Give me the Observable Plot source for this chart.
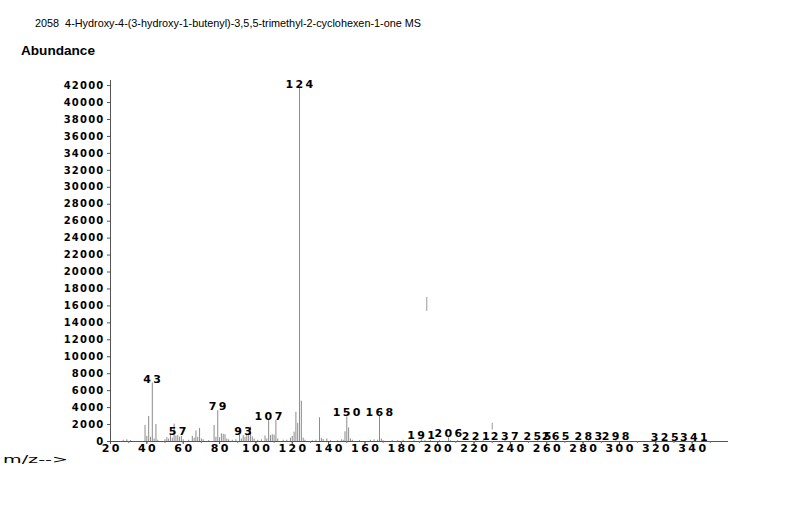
<!DOCTYPE html>
<html>
<head>
<meta charset="utf-8">
<script src="https://cdn.jsdelivr.net/npm/d3@7"></script>
<script src="https://cdn.jsdelivr.net/npm/@observablehq/plot@0.6"></script>
<style>
  html, body { margin: 0; padding: 0; background: #fff; }
  #chart { width: 800px; height: 509px; }
</style>
</head>
<body>
<div id="chart"></div>
<script>
// ---- Data ----
const titleText = "2058  4-Hydroxy-4-(3-hydroxy-1-butenyl)-3,5,5-trimethyl-2-cyclohexen-1-one MS";
const yLabel = "Abundance";
const xLabel = "m/z-->";

const mz = [27, 29, 31, 39, 40, 41, 42, 43, 44, 45, 46, 50, 51, 52, 53, 54, 55, 56, 57, 58, 59, 60,
  63, 65, 66, 67, 68, 69, 70, 71, 74, 77, 78, 79, 80, 81, 82, 83, 84, 85, 87, 89, 91, 92, 93, 94,
  95, 96, 97, 98, 99, 101, 103, 105, 106, 107, 108, 109, 110, 111, 112, 115, 117, 119, 120, 121,
  122, 123, 124, 125, 126, 127, 131, 133, 135, 136, 137, 139, 141, 145, 147, 148, 149, 150, 151,
  152, 153, 157, 163, 165, 167, 168, 169, 170, 175, 178, 181, 187, 191, 193, 196, 201, 206, 207,
  211, 221, 225, 237, 255, 265, 283, 298, 325, 341];
const abundance = [150, 200, 100, 1900, 600, 2950, 500, 6900, 300, 2000, 150, 200, 450, 300, 700,
  400, 2050, 650, 700, 500, 600, 200, 150, 600, 400, 1250, 500, 1550, 300, 200, 100, 1900, 500,
  3650, 450, 900, 850, 800, 300, 200, 150, 200, 800, 300, 700, 500, 850, 850, 1700, 550, 300, 150,
  200, 650, 300, 2500, 700, 800, 750, 2500, 300, 150, 150, 400, 600, 1100, 3450, 2150, 41700, 4750,
  400, 150, 100, 150, 2800, 350, 250, 300, 100, 100, 200, 150, 1150, 2900, 1600, 300, 150, 100, 150,
  200, 150, 2950, 300, 100, 100, 100, 150, 100, 200, 100, 100, 100, 450, 100, 100, 100, 100, 100,
  80, 80, 80, 80, 60, 60];

// stray floating strokes visible in the scan
const ghostMz = [194, 230];
const ghostLow = [15350, 1350];
const ghostHigh = [17000, 2150];

const labelMz = [43, 57, 79, 93, 107, 124, 150, 168, 191, 206, 221, 237, 255, 265, 283, 298, 325, 341];
const labelText = ["43", "57", "79", "93", "107", "124", "150", "168", "191", "206", "221", "237", "255", "265", "283", "298", "325", "341"];

const xTicks = d3.range(20, 341, 20);
const xMinorTicks = d3.range(20, 360, 10);
const yTicks = d3.range(0, 42001, 2000);

// ---- Build tables ----
const peaks = mz.map((m, i) => ({mz: m, ab: abundance[i]}));
const ghosts = ghostMz.map((m, i) => ({mz: m, lo: ghostLow[i], hi: ghostHigh[i]}));
const abAt = new Map(peaks.map(d => [d.mz, d.ab]));
const labels = labelMz.map((m, i) => ({mz: m, ab: abAt.get(m) ?? 0, text: labelText[i]}));

const plot = Plot.plot({
  width: 800,
  height: 509,
  marginLeft: 110,
  marginRight: 72,
  marginTop: 80,
  marginBottom: 68,
  style: {fontFamily: "DejaVu Sans, sans-serif", fontSize: "10px", background: "#fff", color: "#000"},
  x: {domain: [20, 360]},
  y: {domain: [0, 42600]},
  marks: [
    Plot.ruleX(peaks, {x: "mz", y1: 0, y2: "ab", stroke: "#8c8c8c", strokeWidth: 1}),
    Plot.ruleX(ghosts, {x: "mz", y1: "lo", y2: "hi", stroke: "#9a9a9a", strokeWidth: 1}),
    Plot.ruleY([0], {stroke: "#555", strokeWidth: 1}),
    Plot.ruleX([20], {stroke: "#555", strokeWidth: 1}),
    Plot.axisY({ticks: yTicks, tickSize: 3, tickPadding: 3, label: null, tickFormat: d => String(d),
      fontWeight: "bold", stroke: "#555"}),
    Plot.axisX({ticks: xMinorTicks, tickSize: 2, tickFormat: () => "", label: null, stroke: "#777"}),
    Plot.axisX({ticks: xTicks, tickSize: 3, tickPadding: 0, label: null, tickFormat: d => String(d),
      fontWeight: "bold", fontSize: 11, stroke: "#555"}),
    Plot.text(labels, {x: "mz", y: "ab", text: "text", dy: -4, dx: 1, lineAnchor: "middle",
      fontWeight: "bold", fontSize: 11, fill: "#000"})
  ]
});

document.getElementById("chart").appendChild(plot);
const svg = d3.select(plot);

// letter spacing to mimic the wide print glyphs
svg.selectAll('g[aria-label="y-axis tick label"] text').style("letter-spacing", "1.2px");
svg.selectAll('g[aria-label="x-axis tick label"] text').style("letter-spacing", "2.4px").attr("dx", 1.2);
svg.selectAll('g[aria-label="text"] text').style("letter-spacing", "2.4px");

// header / footer texts
svg.append("text")
  .attr("x", 35).attr("y", 27)
  .attr("text-anchor", "start")
  .attr("font-family", "Liberation Sans Narrow, Arial Narrow, Liberation Sans, sans-serif")
  .attr("font-size", 11.5)
  .attr("textLength", 386).attr("lengthAdjust", "spacingAndGlyphs")
  .attr("fill", "#000")
  .text(titleText);

svg.append("text")
  .attr("x", 21).attr("y", 55)
  .attr("text-anchor", "start")
  .attr("font-family", "Liberation Sans, Arial, sans-serif")
  .attr("font-size", 13.5).attr("font-weight", "bold")
  .attr("textLength", 74).attr("lengthAdjust", "spacingAndGlyphs")
  .attr("fill", "#000")
  .text(yLabel);

svg.append("text")
  .attr("x", 3).attr("y", 463)
  .attr("text-anchor", "start")
  .attr("font-family", "DejaVu Sans, sans-serif")
  .attr("font-size", 10)
  .attr("textLength", 65).attr("lengthAdjust", "spacingAndGlyphs")
  .attr("fill", "#000")
  .text(xLabel);
</script>
</body>
</html>
